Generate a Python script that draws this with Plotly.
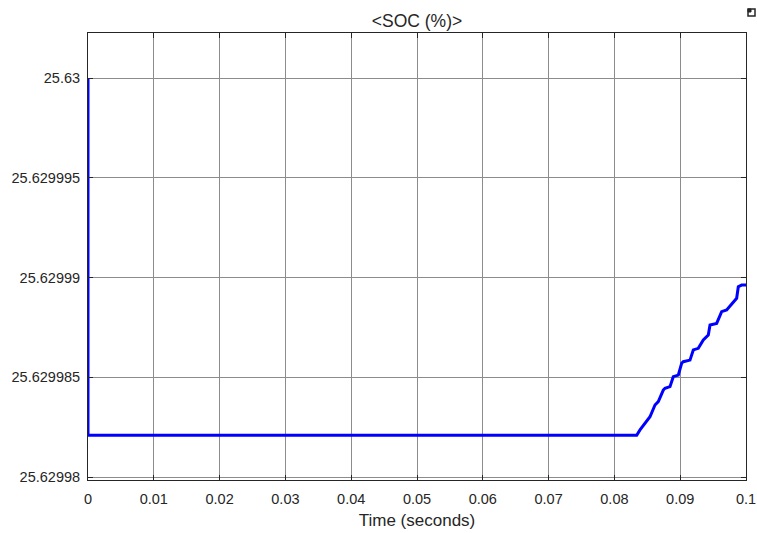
import plotly.graph_objects as go

BASE = 25.62998
# time (s) and SOC offsets (1e-6 %) above 25.62998
time_s = [0.0, 0.0, 0.08339, 0.08389, 0.08541, 0.08617, 0.08667, 0.08743, 0.08769,
          0.08845, 0.08895, 0.08971, 0.09022, 0.09047, 0.09149, 0.09199, 0.09275,
          0.09351, 0.09427, 0.09453, 0.09554, 0.09630, 0.09706, 0.09807, 0.09858,
          0.09883, 0.09934, 0.1]
soc_offset_micro = [20.0, 2.09, 2.09, 2.36, 3.02, 3.61, 3.78, 4.36, 4.45,
                    4.53, 5.03, 5.11, 5.70, 5.78, 5.86, 6.37, 6.45,
                    6.87, 7.12, 7.62, 7.70, 8.29, 8.37, 8.79, 8.96,
                    9.54, 9.62, 9.62]
soc = [BASE + v * 1e-6 for v in soc_offset_micro]

x_ticks = [0, 0.01, 0.02, 0.03, 0.04, 0.05, 0.06, 0.07, 0.08, 0.09, 0.1]
x_ticktext = ["0", "0.01", "0.02", "0.03", "0.04", "0.05", "0.06", "0.07", "0.08", "0.09", "0.1"]
y_ticks = [25.62998, 25.629985, 25.62999, 25.629995, 25.63]
y_ticktext = ["25.62998", "25.629985", "25.62999", "25.629995", "25.63"]

W, H = 757, 533
L, R, T, B = 88, 11, 33, 53

fig = go.Figure()
fig.add_trace(go.Scatter(x=time_s, y=soc, mode="lines",
                         line=dict(color="#0000ff", width=3), showlegend=False,
                         cliponaxis=False))

font_family = "Liberation Sans, Arial, Helvetica, sans-serif"
fig.update_layout(
    width=W, height=H,
    margin=dict(l=L, r=R, t=T, b=B, autoexpand=False),
    paper_bgcolor="white", plot_bgcolor="white",
    font=dict(family=font_family, size=14.5, color="#262626"),
    title=dict(text="&lt;SOC (%)&gt;", x=0.5, xanchor="center", xref="paper",
               y=1 - 21 / H, yanchor="middle",
               font=dict(size=17.5, color="#262626", family=font_family)),
    xaxis=dict(range=[0, 0.1], tickvals=x_ticks, ticktext=x_ticktext,
               showgrid=True, gridcolor="#8c8c8c", gridwidth=1,
               showline=True, linecolor="#262626", linewidth=1, mirror="ticks",
               ticks="inside", ticklen=5, tickcolor="#262626",
               zeroline=False, automargin=False, ticklabelstandoff=6,
               ticklabeloverflow="allow",
               title=dict(text="Time (seconds)", font=dict(size=17), standoff=7)),
    yaxis=dict(range=[BASE - 0.15e-6, 25.63 + 2.256e-6], tickvals=y_ticks, ticktext=y_ticktext,
               showgrid=True, gridcolor="#8c8c8c", gridwidth=1,
               showline=True, linecolor="#262626", linewidth=1, mirror="ticks",
               ticks="inside", ticklen=5, tickcolor="#262626",
               zeroline=False, automargin=False, ticklabelstandoff=4,
               ticklabeloverflow="allow"),
)

# small undock icon at top right
pw, ph = W - L - R, H - T - B
fig.add_shape(type="rect", xref="paper", yref="paper",
              x0=1 + (748 - 746) / pw, x1=1 + (755 - 746) / pw,
              y0=1 + (33 - 16) / ph, y1=1 + (33 - 9) / ph,
              line=dict(color="#262626", width=1.5), fillcolor="white")
fig.add_shape(type="rect", xref="paper", yref="paper",
              x0=1 + (748 - 746) / pw, x1=1 + (751 - 746) / pw,
              y0=1 + (33 - 12) / ph, y1=1 + (33 - 9) / ph,
              line=dict(color="#262626", width=1), fillcolor="#262626")

fig.write_html("out.html",
               config={"displayModeBar": False},
               post_script="document.body.style.margin='0';"
                           "document.documentElement.style.overflow='hidden';")
